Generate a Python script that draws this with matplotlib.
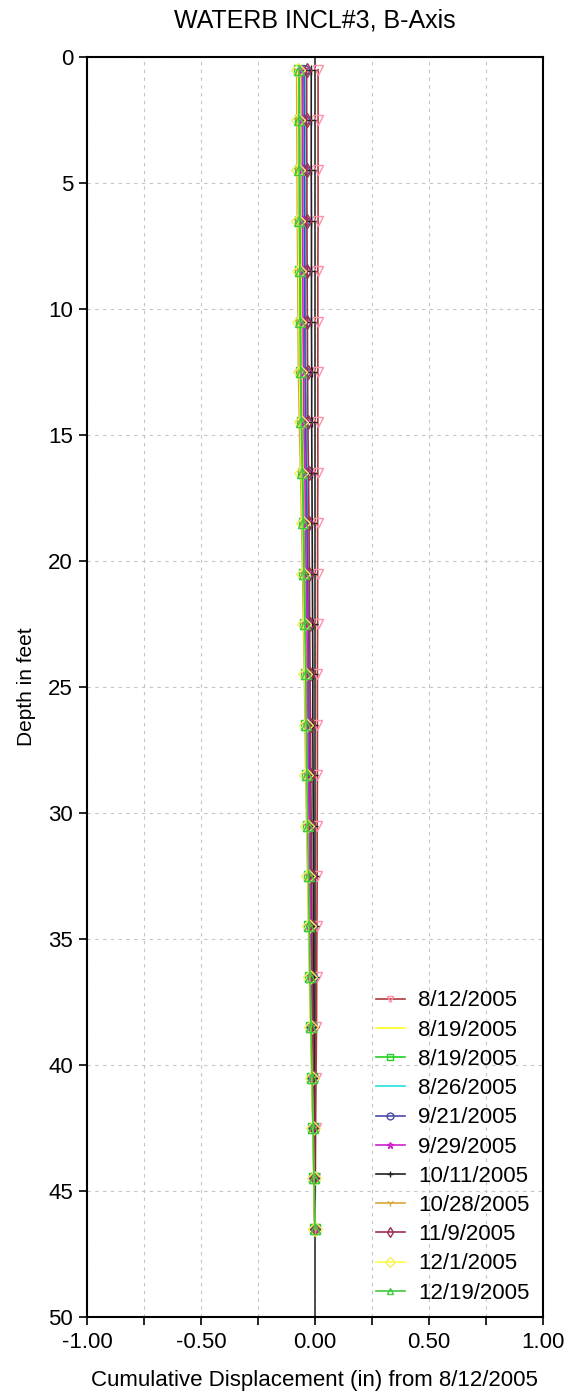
import numpy as np
import matplotlib.pyplot as plt
from matplotlib.ticker import MultipleLocator, FormatStrFormatter

plt.rcParams['font.family'] = ['Liberation Sans', 'DejaVu Sans']

# profundidades de lectura (pies)
depths = [0.5, 2.5, 4.5, 6.5, 8.5, 10.5, 12.5, 14.5, 16.5, 18.5, 20.5, 22.5,
          24.5, 26.5, 28.5, 30.5, 32.5, 34.5, 36.5, 38.5, 40.5, 42.5, 44.5, 46.5]

labels = ["8/12/2005", "8/19/2005", "8/19/2005", "8/26/2005", "9/21/2005", "9/29/2005",
          "10/11/2005", "10/28/2005", "11/9/2005", "12/1/2005", "12/19/2005"]

d_0812 = [0.014, 0.014, 0.014, 0.014, 0.013, 0.013, 0.013, 0.013, 0.013, 0.012, 0.012, 0.012,
          0.011, 0.011, 0.011, 0.010, 0.010, 0.009, 0.008, 0.007, 0.005, 0.003, 0.002, 0.000]
d_0819a = [-0.064, -0.063, -0.062, -0.062, -0.060, -0.059, -0.058, -0.054, -0.050, -0.046, -0.043, -0.040,
           -0.037, -0.034, -0.032, -0.029, -0.026, -0.022, -0.019, -0.015, -0.011, -0.007, -0.004, 0.000]
d_0819b = [-0.068, -0.067, -0.066, -0.065, -0.064, -0.063, -0.061, -0.058, -0.054, -0.049, -0.046, -0.043,
           -0.039, -0.037, -0.034, -0.031, -0.027, -0.024, -0.020, -0.016, -0.012, -0.008, -0.004, 0.000]
d_0826 = [-0.044, -0.043, -0.043, -0.042, -0.041, -0.041, -0.040, -0.037, -0.035, -0.032, -0.030, -0.028,
          -0.025, -0.024, -0.022, -0.020, -0.018, -0.015, -0.013, -0.010, -0.008, -0.005, -0.003, 0.000]
d_0921 = [-0.048, -0.047, -0.047, -0.046, -0.045, -0.044, -0.043, -0.041, -0.038, -0.035, -0.032, -0.030,
          -0.028, -0.026, -0.024, -0.022, -0.019, -0.017, -0.014, -0.011, -0.008, -0.005, -0.003, 0.000]
d_0929 = [-0.056, -0.055, -0.055, -0.054, -0.053, -0.052, -0.050, -0.048, -0.044, -0.041, -0.038, -0.035,
          -0.032, -0.030, -0.028, -0.025, -0.022, -0.020, -0.017, -0.013, -0.010, -0.006, -0.004, 0.000]
d_1011 = [-0.016, -0.016, -0.016, -0.015, -0.015, -0.015, -0.014, -0.014, -0.013, -0.012, -0.011, -0.010,
          -0.009, -0.009, -0.008, -0.007, -0.006, -0.006, -0.005, -0.004, -0.003, -0.002, -0.001, 0.000]
d_1028 = [-0.080, -0.079, -0.078, -0.077, -0.075, -0.074, -0.072, -0.068, -0.063, -0.058, -0.054, -0.050,
          -0.046, -0.043, -0.040, -0.036, -0.032, -0.028, -0.024, -0.019, -0.014, -0.009, -0.005, 0.000]
d_1109 = [-0.036, -0.036, -0.035, -0.035, -0.034, -0.033, -0.032, -0.031, -0.028, -0.026, -0.024, -0.023,
          -0.021, -0.019, -0.018, -0.016, -0.014, -0.013, -0.011, -0.009, -0.006, -0.004, -0.002, 0.000]
d_1201 = [-0.074, -0.073, -0.073, -0.072, -0.070, -0.069, -0.067, -0.063, -0.059, -0.054, -0.050, -0.047,
          -0.043, -0.040, -0.037, -0.033, -0.030, -0.026, -0.022, -0.018, -0.013, -0.008, -0.005, 0.000]
d_1219 = [-0.070, -0.070, -0.069, -0.068, -0.066, -0.065, -0.063, -0.060, -0.055, -0.051, -0.048, -0.044,
          -0.040, -0.038, -0.035, -0.032, -0.028, -0.025, -0.021, -0.017, -0.012, -0.008, -0.004, 0.000]

series = [d_0812, d_0819a, d_0819b, d_0826, d_0921, d_0929, d_1011, d_1028, d_1109, d_1201, d_1219]

# estilo de cada serie: (color linea, marcador, color marcador)
estilos = [
    ('#b03838', 'v', '#ff8fa8'),
    ('#ffff20', '', '#ffff20'),
    ('#20d020', 's', '#20d020'),
    ('#20e0e0', '', '#20e0e0'),
    ('#4a4aa8', 'o', '#4a4aa8'),
    ('#d020d0', '*', '#d020d0'),
    ('#202020', '+', '#202020'),
    ('#d8a838', '1', '#d8a838'),
    ('#a03050', 'd', '#a03050'),
    ('#ffff40', 'D', '#f0f060'),
    ('#40c840', '^', '#40c840'),
]

fig = plt.figure(figsize=(5.72, 13.95), dpi=100)
ax = fig.add_axes([0.152, 0.0559, 0.797, 0.9032])

ax.axvline(0, color='#404040', lw=1.3, zorder=2)

for vals, lab, (c, m, mc) in zip(series, labels, estilos):
    ax.plot(vals, depths, color=c, lw=1.2, marker=m if m else None, markersize=7,
            markerfacecolor='none', markeredgecolor=mc, markeredgewidth=1.0,
            label=lab, zorder=3)

ax.set_xlim(-1, 1)
ax.set_ylim(50, 0)
ax.xaxis.set_major_locator(MultipleLocator(0.5))
ax.xaxis.set_minor_locator(MultipleLocator(0.25))
ax.xaxis.set_major_formatter(FormatStrFormatter('%.2f'))
ax.yaxis.set_major_locator(MultipleLocator(5))

ax.grid(True, which='both', axis='x', ls=(0, (3, 4)), color='#c4c4c4', lw=0.8, zorder=0)
ax.grid(True, which='major', axis='y', ls=(0, (3, 4)), color='#c4c4c4', lw=0.8, zorder=0)

ax.tick_params(axis='both', which='both', direction='out', length=6, width=1.2,
               labelsize=16)
ax.tick_params(axis='x', pad=5)
ax.tick_params(axis='y', pad=4)
for s in ax.spines.values():
    s.set_linewidth(1.5)

ax.set_title("WATERB INCL#3, B-Axis", fontsize=18, pad=21)
ax.set_ylabel("Depth in feet", fontsize=15, labelpad=9)
ax.set_xlabel("Cumulative Displacement (in) from 8/12/2005", fontsize=16, labelpad=12)

ax.legend(loc='lower right', frameon=False, fontsize=16, handlelength=1.3,
          handletextpad=0.6, labelspacing=0.37, borderaxespad=0.2, markerscale=0.7)

fig.savefig('out.png', dpi=100)
